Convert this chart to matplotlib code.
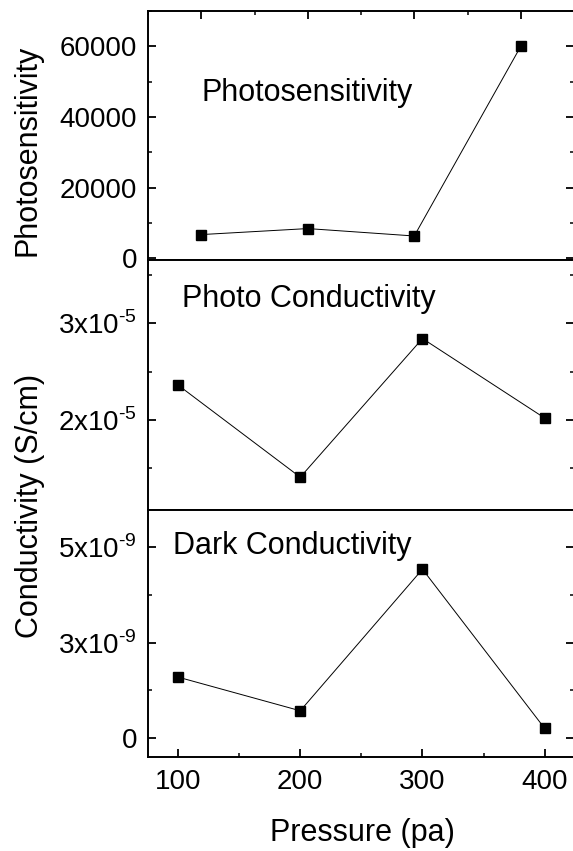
import matplotlib
matplotlib.use("Agg")
import matplotlib.pyplot as plt
from matplotlib.ticker import MultipleLocator, FixedLocator, NullLocator

plt.rcParams["font.family"] = ["Liberation Sans", "DejaVu Sans"]
plt.rcParams["mathtext.fontset"] = "custom"
plt.rcParams["mathtext.rm"] = "Liberation Sans"

# Deposition pressure (pa)
pressure = [100, 200, 300, 400]

# Photosensitivity (ratio of photo to dark conductivity)
photosensitivity = [6750, 8450, 6350, 60000]

# Photo conductivity (S/cm)
photo_cond = [2.36e-5, 1.41e-5, 2.84e-5, 2.02e-5]

# Dark conductivity (S/cm)
dark_cond = [1.60e-9, 0.72e-9, 4.42e-9, 0.26e-9]

# Tick values and their printed labels
top_yticks = [0, 20000, 40000, 60000]
top_ylabels = ["0", "20000", "40000", "60000"]
mid_yticks = [2e-5, 3e-5]
mid_ylabels = [r"2x10$^{\text{-5}}$", r"3x10$^{\text{-5}}$"]
bot_yticks = [0, 2.5e-9, 5e-9]
bot_ylabels = ["0", r"3x10$^{\text{-9}}$", r"5x10$^{\text{-9}}$"]
xticks = [100, 200, 300, 400]

W_PX, H_PX = 573, 851
fig = plt.figure(figsize=(W_PX / 100, H_PX / 100), dpi=100)


def fx(px):
    return px / W_PX


def fy(py):
    return 1 - py / H_PX


left, right = 148.0, 574.0
y_top, y_b1, y_b2, y_bot = 11.0, 259.5, 509.5, 756.7

ax_top = fig.add_axes([fx(left), fy(y_b1), fx(right) - fx(left), fy(y_top) - fy(y_b1)])
ax_mid = fig.add_axes([fx(left), fy(y_b2), fx(right) - fx(left), fy(y_b1) - fy(y_b2)])
ax_bot = fig.add_axes([fx(left), fy(y_bot), fx(right) - fx(left), fy(y_b2) - fy(y_bot)])

line_kw = dict(color="black", lw=0.7, marker="s", markersize=7.2,
               markerfacecolor="black", markeredgecolor="black")

ax_top.plot(pressure, photosensitivity, **line_kw)
ax_mid.plot(pressure, photo_cond, **line_kw)
ax_bot.plot(pressure, dark_cond, **line_kw)

TICK_FS = 20
for ax in (ax_top, ax_mid, ax_bot):
    for s in ax.spines.values():
        s.set_linewidth(1.4)
    ax.tick_params(axis="both", which="major", direction="in", length=5.5,
                   width=1.3, labelsize=TICK_FS)
    ax.tick_params(axis="both", which="minor", direction="in", length=3,
                   width=1.1)
    ax.tick_params(axis="y", which="major", pad=8)
    ax.tick_params(axis="x", which="major", pad=9)
    ax.tick_params(axis="y", which="both", left=True, right=True)

# Top panel
ax_top.set_xlim(50, 450)
ax_top.set_ylim(-300, 70000)
ax_top.set_yticks(top_yticks)
ax_top.set_yticklabels(top_ylabels)
ax_top.yaxis.set_minor_locator(MultipleLocator(10000))
ax_top.xaxis.set_major_locator(FixedLocator(xticks))
ax_top.xaxis.set_minor_locator(MultipleLocator(50))
ax_top.tick_params(axis="x", which="both", top=True, bottom=False,
                   labeltop=False, labelbottom=False)

# Middle panel
ax_mid.set_xlim(75.4, 424)
ax_mid.set_ylim(1.077e-5, 3.655e-5)
ax_mid.set_yticks(mid_yticks)
ax_mid.set_yticklabels(mid_ylabels)
ax_mid.yaxis.set_minor_locator(MultipleLocator(0.5e-5))
ax_mid.xaxis.set_major_locator(NullLocator())
ax_mid.xaxis.set_minor_locator(NullLocator())

# Bottom panel
ax_bot.set_xlim(75.4, 424)
ax_bot.set_ylim(-0.48e-9, 5.98e-9)
ax_bot.set_yticks(bot_yticks)
ax_bot.set_yticklabels(bot_ylabels)
ax_bot.yaxis.set_minor_locator(MultipleLocator(1.25e-9))
ax_bot.set_xticks(xticks)
ax_bot.xaxis.set_minor_locator(MultipleLocator(50))
ax_bot.tick_params(axis="x", which="both", top=False, bottom=True)

# Panel captions
CAP_FS = 22
fig.text(fx(201.7), fy(101), "Photosensitivity", fontsize=CAP_FS,
         ha="left", va="baseline")
fig.text(fx(181.7), fy(307.3), "Photo Conductivity", fontsize=CAP_FS,
         ha="left", va="baseline")
fig.text(fx(172.7), fy(554.3), "Dark Conductivity", fontsize=CAP_FS,
         ha="left", va="baseline")

# Axis titles
LAB_FS = 22
fig.text(fx(27.5), fy(150.5), "Photosensitivity", fontsize=LAB_FS,
         rotation=90, ha="center", va="center")
fig.text(fx(30), fy(506), "Conductivity (S/cm)", fontsize=LAB_FS,
         rotation=90, ha="center", va="center")
fig.text(fx(362), fy(833), "Pressure (pa)", fontsize=LAB_FS,
         ha="center", va="center")

fig.savefig("out.png", dpi=100)
